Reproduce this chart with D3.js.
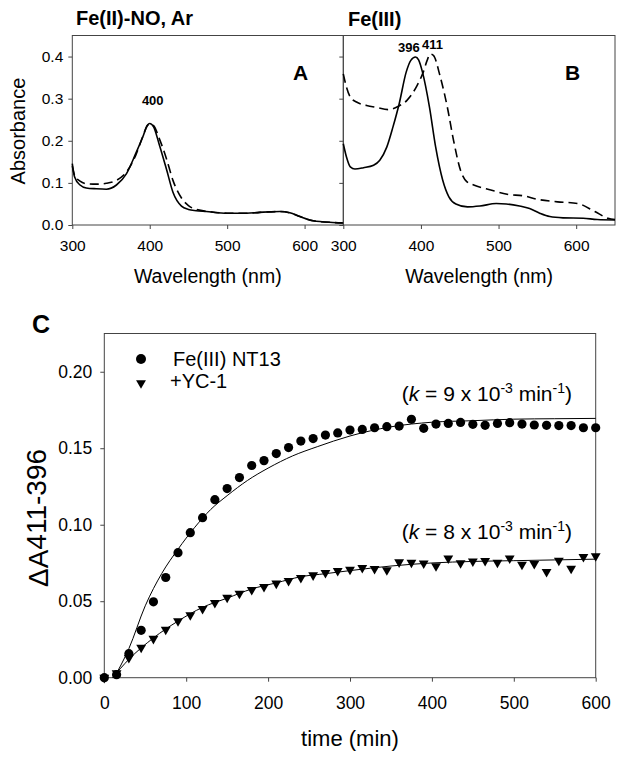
<!DOCTYPE html>
<html><head><meta charset="utf-8">
<script src="https://cdn.jsdelivr.net/npm/d3@7"></script>
<style>
body{margin:0;background:#fff}
svg{display:block}
text{font-family:"Liberation Sans",Arial,sans-serif;fill:#000}
</style>
</head><body>
<svg id="chart" width="624" height="763"></svg>
<script>
// ---------- Panel A: Fe(II)-NO, Ar ----------
const wlA = [300,303,310,318,331,344,357,370,382,391,397,400,405,412,422,430,441,450,460,473,500,525,542,568,581,594,611,636,650];
const absA_solid = [0.146,0.114,0.095,0.088,0.086,0.085,0.095,0.122,0.170,0.209,0.237,0.241,0.233,0.193,0.130,0.078,0.045,0.037,0.034,0.032,0.028,0.028,0.030,0.032,0.029,0.020,0.010,0.006,0.005];
const absA_dash  = [0.140,0.118,0.104,0.098,0.097,0.099,0.106,0.126,0.166,0.210,0.236,0.240,0.236,0.207,0.155,0.106,0.064,0.046,0.037,0.033,0.028,0.028,0.030,0.032,0.029,0.020,0.010,0.006,0.005];

// ---------- Panel B: Fe(III) ----------
const wlB_solid = [300,304,309,315,326,339,347,356,364,372,381,387,393,397,402,411,419,428,436,445,460,476,497,510,527,540,553,566,583,609,627,650];
const absB_solid = [0.193,0.162,0.138,0.133,0.136,0.142,0.154,0.185,0.233,0.288,0.363,0.391,0.399,0.392,0.363,0.280,0.185,0.107,0.067,0.050,0.043,0.045,0.051,0.050,0.045,0.039,0.028,0.020,0.017,0.016,0.013,0.012];
const wlB_dash = [300,304,309,317,330,343,358,371,382,395,403,408,412,416,425,434,442,451,459,468,490,511,533,550,576,602,624,641,650];
const absB_dash = [0.359,0.328,0.304,0.292,0.284,0.279,0.274,0.282,0.296,0.331,0.363,0.391,0.406,0.403,0.351,0.280,0.201,0.130,0.103,0.095,0.083,0.073,0.069,0.061,0.055,0.051,0.032,0.016,0.013];

const ticksAbs = [0,0.1,0.2,0.3,0.4];
const ticksWl = [300,400,500,600];

// ---------- Panel C: kinetics ----------
const time = [0,15,30,45,60,75,90,105,120,135,150,165,180,195,210,225,240,255,270,285,300,315,330,345,360,375,390,405,420,435,450,465,480,495,510,525,540,555,570,585,600];
const dA_NT13 = [0,0.002,0.0157,0.031,0.0496,0.0655,0.0817,0.0948,0.1046,0.1164,0.1236,0.1308,0.1387,0.1419,0.1465,0.1504,0.1547,0.1563,0.1586,0.160,0.1619,0.1623,0.1634,0.1641,0.1645,0.1689,0.163,0.1658,0.1662,0.1669,0.1656,0.165,0.1662,0.1667,0.1658,0.1652,0.165,0.1648,0.1648,0.1634,0.1634];
const dA_YC1 = [0,0.003,0.013,0.0197,0.0255,0.0314,0.037,0.041,0.045,0.049,0.0524,0.055,0.0574,0.0594,0.0616,0.0633,0.0653,0.067,0.0686,0.0699,0.0707,0.0718,0.0712,0.0703,0.0755,0.0753,0.0747,0.073,0.078,0.0749,0.076,0.0764,0.0753,0.078,0.074,0.0745,0.0692,0.0766,0.0714,0.079,0.0795];
const fitTime1 = [12,30,50,70,90,110,130,150,175,200,230,260,300,350,400,450,500,550,600];
const fitVal1  = [0,0.019,0.047,0.068,0.084,0.098,0.110,0.119,0.129,0.137,0.145,0.151,0.158,0.164,0.167,0.168,0.169,0.1693,0.1695];
const fitTime2 = [10,30,60,90,120,150,180,210,240,270,300,350,400,450,500,550,600];
const fitVal2  = [0,0.012,0.026,0.037,0.046,0.052,0.058,0.062,0.066,0.068,0.070,0.073,0.075,0.076,0.0765,0.077,0.0775];
const ticksDA = [0,0.05,0.10,0.15,0.20];
const ticksTime = [0,100,200,300,400,500,600];
const legendLabels = ["Fe(III) NT13","+YC-1"];

const svg = d3.select("#chart");
const AX = "#444";

function styleAxis(g){
  g.select(".domain").remove();
  g.selectAll(".tick line").attr("stroke",AX);
}

// ===== Panels A & B =====
const yAB = d3.scaleLinear().domain([0,0.45]).range([225,35.5]);
const xA = d3.scaleLinear().domain([300,650]).range([72.3,343.3]);
const xB = d3.scaleLinear().domain([300,650]).range([343.3,615]);

function spectrumPanel(x, wls, solid, wld, dash, showLabels){
  const gy = svg.append("g").attr("transform",`translate(${x.range()[0]},0)`)
    .call(d3.axisLeft(yAB).tickValues(ticksAbs).tickSize(4).tickPadding(5)
      .tickFormat(showLabels ? d3.format(".1f") : ""));
  styleAxis(gy);
  gy.selectAll("text").attr("font-size",15.5).attr("font-family",null);
  const gx = svg.append("g").attr("transform",`translate(0,${yAB(0)})`)
    .call(d3.axisBottom(x).tickValues(ticksWl).tickSize(4).tickFormat(d3.format("d")));
  styleAxis(gx);
  gx.selectAll("text").attr("font-size",15.5).attr("font-family",null).attr("dy",null).attr("y",26);
  svg.append("rect").attr("x",x.range()[0]).attr("y",yAB.range()[1])
    .attr("width",x.range()[1]-x.range()[0]).attr("height",yAB.range()[0]-yAB.range()[1])
    .attr("fill","none").attr("stroke",AX).attr("stroke-width",1);
  const line = d3.line().x(d=>x(d[0])).y(d=>yAB(d[1])).curve(d3.curveMonotoneX);
  svg.append("path").datum(wld.map((w,i)=>[w,dash[i]])).attr("d",line)
    .attr("fill","none").attr("stroke","#000").attr("stroke-width",1.6).attr("stroke-dasharray","9,5");
  svg.append("path").datum(wls.map((w,i)=>[w,solid[i]])).attr("d",line)
    .attr("fill","none").attr("stroke","#000").attr("stroke-width",1.6);
  svg.append("text").attr("x",(x.range()[0]+x.range()[1])/2).attr("y",283)
    .attr("text-anchor","middle").attr("font-size",19.5).text("Wavelength (nm)");
}
spectrumPanel(xA, wlA, absA_solid, wlA, absA_dash, true);
spectrumPanel(xB, wlB_solid, absB_solid, wlB_dash, absB_dash, false);

svg.append("text").attr("transform","translate(25,131) rotate(-90)").attr("text-anchor","middle")
  .attr("font-size",20).text("Absorbance");
svg.append("text").attr("x",76).attr("y",25).attr("font-size",20).attr("font-weight","bold").text("Fe(II)-NO, Ar");
svg.append("text").attr("x",348).attr("y",26).attr("font-size",20).attr("font-weight","bold").text("Fe(III)");
svg.append("text").attr("x",293).attr("y",80).attr("font-size",21).attr("font-weight","bold").text("A");
svg.append("text").attr("x",565).attr("y",80).attr("font-size",21).attr("font-weight","bold").text("B");
svg.append("text").attr("x",xA(400)+3).attr("y",105).attr("text-anchor","middle").attr("font-size",13).attr("font-weight","bold").text("400");
svg.append("text").attr("x",xB(396)-9).attr("y",52).attr("text-anchor","middle").attr("font-size",13).attr("font-weight","bold").text("396");
svg.append("text").attr("x",xB(411)+3).attr("y",49).attr("text-anchor","middle").attr("font-size",13).attr("font-weight","bold").text("411");

// ===== Panel C =====
const xC = d3.scaleLinear().domain([0,600]).range([104.3,595.7]);
const yC = d3.scaleLinear().domain([0,0.225]).range([677.7,333.5]);

const gyC = svg.append("g").attr("transform",`translate(${xC(0)},0)`)
  .call(d3.axisLeft(yC).tickValues(ticksDA).tickSize(4).tickPadding(8).tickFormat(d3.format(".2f")));
styleAxis(gyC);
gyC.selectAll("text").attr("font-size",17.5).attr("font-family",null);
const gxC = svg.append("g").attr("transform",`translate(0,${yC(0)})`)
  .call(d3.axisBottom(xC).tickValues(ticksTime).tickSize(4).tickFormat(d3.format("d")));
styleAxis(gxC);
gxC.selectAll("text").attr("font-size",17.5).attr("font-family",null).attr("dy",null).attr("y",31);
svg.append("rect").attr("x",xC.range()[0]).attr("y",yC.range()[1])
  .attr("width",xC.range()[1]-xC.range()[0]).attr("height",yC.range()[0]-yC.range()[1])
  .attr("fill","none").attr("stroke",AX).attr("stroke-width",1);

const fitLine = d3.line().x(d=>xC(d[0])).y(d=>yC(d[1])).curve(d3.curveMonotoneX);
svg.append("path").datum(fitTime1.map((t,i)=>[t,fitVal1[i]])).attr("d",fitLine)
  .attr("fill","none").attr("stroke","#000").attr("stroke-width",1);
svg.append("path").datum(fitTime2.map((t,i)=>[t,fitVal2[i]])).attr("d",fitLine)
  .attr("fill","none").attr("stroke","#000").attr("stroke-width",1);

const tri = d3.symbol().type(d3.symbolTriangle).size(42);
svg.append("g").selectAll("path").data(time.map((t,i)=>[t,dA_YC1[i]])).join("path")
  .attr("d",tri).attr("transform",d=>`translate(${xC(d[0])},${yC(d[1])}) rotate(180)`).attr("fill","#000");
svg.append("g").selectAll("circle").data(time.map((t,i)=>[t,dA_NT13[i]])).join("circle")
  .attr("cx",d=>xC(d[0])).attr("cy",d=>yC(d[1])).attr("r",4.6).attr("fill","#000");

// legend
svg.append("circle").attr("cx",141).attr("cy",359).attr("r",5).attr("fill","#000");
svg.append("path").attr("d",tri).attr("transform","translate(141,383) rotate(180)").attr("fill","#000");
svg.append("text").attr("x",173).attr("y",366).attr("font-size",20).text(legendLabels[0]);
svg.append("text").attr("x",170).attr("y",388).attr("font-size",20).text(legendLabels[1]);

// rate annotations
function rateLabel(val, yBase){
  const t = svg.append("text").attr("x",572).attr("y",yBase).attr("text-anchor","end").attr("font-size",21);
  t.append("tspan").text("(");
  t.append("tspan").attr("font-style","italic").text("k");
  t.append("tspan").text(` = ${val} x 10`);
  t.append("tspan").attr("font-size",14).attr("dy",-8).text("-3");
  t.append("tspan").attr("dy",8).text(" min");
  t.append("tspan").attr("font-size",14).attr("dy",-8).text("-1");
  t.append("tspan").attr("dy",8).text(")");
}
rateLabel(9, 401);
rateLabel(8, 539);

svg.append("text").attr("x",350).attr("y",746).attr("text-anchor","middle").attr("font-size",22).text("time (min)");
const yl = svg.append("text").attr("transform","translate(48,518) rotate(-90)").attr("text-anchor","middle").attr("font-size",28);
yl.append("tspan").text("\u0394A");
yl.append("tspan").attr("dy",-2).text("411-396");
svg.append("text").attr("x",32).attr("y",333).attr("font-size",25).attr("font-weight","bold").text("C");
</script>
</body></html>
